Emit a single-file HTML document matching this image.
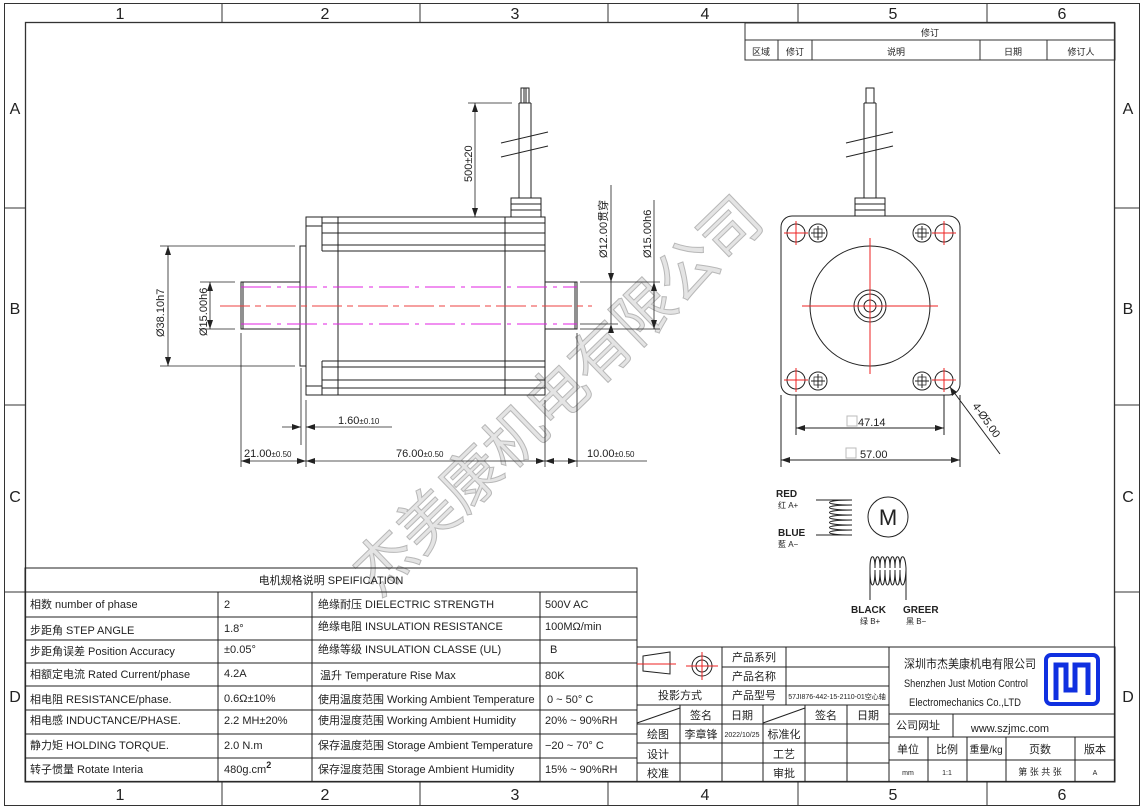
<!DOCTYPE html>
<html><head><meta charset="utf-8"><style>
html,body{margin:0;padding:0;background:#fff}
svg{display:block}
text{font-family:"Liberation Sans Narrow","Liberation Sans","Noto Sans CJK SC",sans-serif;fill:#222}
.t{font-size:11px}
.s{font-size:9px}
.r{font-size:16px;fill:#333}
</style></head><body>
<svg width="1144" height="809" viewBox="0 0 1144 809" xmlns="http://www.w3.org/2000/svg">
<rect width="1144" height="809" fill="#fff"/>
<g fill="none" stroke="#333">
<rect x="4.5" y="3.5" width="1135" height="802"/>
<rect x="25.5" y="22.5" width="1089" height="759" stroke-width="1.3"/>
<path d="M222 4V22M420 4V22M608 4V22M798 4V22M987 4V22M222 782V805M420 782V805M608 782V805M798 782V805M987 782V805M4 208H25M4 405H25M4 592H25M1115 208H1140M1115 405H1140M1115 592H1140"/>
</g>
<g class="r" text-anchor="middle">
<text x="120" y="19">1</text><text x="325" y="19">2</text><text x="515" y="19">3</text><text x="705" y="19">4</text><text x="893" y="19">5</text><text x="1062" y="19">6</text>
<text x="120" y="800">1</text><text x="325" y="800">2</text><text x="515" y="800">3</text><text x="705" y="800">4</text><text x="893" y="800">5</text><text x="1062" y="800">6</text>
<text x="15" y="114">A</text><text x="15" y="314">B</text><text x="15" y="502">C</text><text x="15" y="702">D</text>
<text x="1128" y="114">A</text><text x="1128" y="314">B</text><text x="1128" y="502">C</text><text x="1128" y="702">D</text>
</g>

<text x="0" y="0" transform="translate(378,598) rotate(-44)" font-size="60" style="fill:#e4e4e4;stroke:#b8b8b8;stroke-width:1" font-family="Noto Sans CJK SC,sans-serif">杰美康机电有限公司</text>

<g fill="none" stroke="#333">
<rect x="745" y="23" width="370" height="37"/>
<path d="M745 40H1115M778 40V60M812 40V60M980 40V60M1047 40V60"/>
</g>
<g class="s" text-anchor="middle">
<text x="930" y="36">修订</text><text x="761" y="55">区域</text><text x="795" y="55">修订</text><text x="896" y="55">说明</text><text x="1013" y="55">日期</text><text x="1081" y="55">修订人</text>
</g>

<g fill="none" stroke="#222" stroke-width="1">
<rect x="306" y="217" width="239" height="178"/>
<path d="M322 217V251M322 361V395M338 217V395M505 217V395"/>
<path d="M306 226H322M306 386H322"/>
<path d="M322 223H545M322 233H545M322 245H545M322 251H545"/>
<path d="M322 361H545M322 367H545M322 380H545M322 388H545"/>
<rect x="300" y="246" width="6" height="120"/>
<rect x="241" y="282" width="59" height="47"/>
<rect x="545" y="282" width="32" height="47"/>
<path d="M243 282V329M575 282V329"/>
<rect x="511" y="198" width="30" height="19"/>
<path d="M511 204H541M511 210H541"/>
<path d="M519 103V198M531 103V198M519 103H531"/>
<rect x="521" y="88" width="8" height="15"/>
<path d="M524 88V103M526 88V103"/>
<path d="M501 143L548 132M501 157L548 146"/>
</g>
<g stroke-width="1" fill="none">
<path d="M241 287H577M241 324H577" stroke="#e020e0" stroke-dasharray="30 6 4 6"/>
<path d="M220 306H592" stroke="#ee4040" stroke-dasharray="30 5 6 5"/>
</g>
<g stroke="#222" fill="none" stroke-width="0.8">
<path d="M468 103H512M475 103V217"/>
<path d="M160 246H295M160 366H295M168 246V366"/>
<path d="M200 282H235M200 329H235M210 282V329"/>
<path d="M580 282H660M580 324H618M580 329H660M611 185V324M654 200V329"/>
<path d="M301 368V445M306 400V467M241 333V467M545 400V467M577 333V467"/>
<path d="M282 427H301M306 427H392M241 461H306M306 461H545M545 461H577M577 461H647"/>
</g>
<g fill="#222">
<path d="M475 103l-3 9h6zM475 217l-3-9h6zM168 246l-3 9h6zM168 366l-3-9h6zM210 282l-3 9h6zM210 329l-3-9h6zM611 282l-3-9h6zM611 324l-3 9h6zM654 282l-3 9h6zM654 329l-3-9h6z"/>
<path d="M301 427l-9-3v6zM306 427l9-3v6zM241 461l9-3v6zM306 461l-9-3v6zM306 461l9-3v6zM545 461l-9-3v6zM545 461l9-3v6zM577 461l-9-3v6z"/>
</g>
<g class="t">
<text transform="translate(472,182) rotate(-90)">500±20</text>
<text transform="translate(164,337) rotate(-90)">Ø38.10h7</text>
<text transform="translate(207,336) rotate(-90)">Ø15.00h6</text>
<text transform="translate(607,258) rotate(-90)">Ø12.00贯穿</text>
<text transform="translate(651,258) rotate(-90)">Ø15.00h6</text>
<text x="338" y="424">1.60<tspan font-size="8">±0.10</tspan></text>
<text x="244" y="457">21.00<tspan font-size="8">±0.50</tspan></text>
<text x="396" y="457">76.00<tspan font-size="8">±0.50</tspan></text>
<text x="587" y="457">10.00<tspan font-size="8">±0.50</tspan></text>
</g>

<g fill="none" stroke="#222">
<rect x="781" y="216" width="179" height="179" rx="11"/>
<circle cx="870" cy="306" r="60"/>
<circle cx="870" cy="306" r="16"/><circle cx="870" cy="306" r="12"/><circle cx="870" cy="306" r="6"/>
<circle cx="796" cy="233" r="9"/><circle cx="944" cy="233" r="9"/><circle cx="796" cy="380" r="9"/><circle cx="944" cy="380" r="9"/>
<circle cx="818" cy="233" r="9"/><circle cx="922" cy="233" r="9"/><circle cx="818" cy="381" r="9"/><circle cx="922" cy="381" r="9"/>
<path d="M814 229h8v8h-8zM918 229h8v8h-8zM814 377h8v8h-8zM918 377h8v8h-8z" stroke-width="0.7"/>
<rect x="855" y="198" width="30" height="18"/>
<path d="M855 204H885M855 210H885"/>
<path d="M864 103V198M876 103V198M864 103H876"/>
<rect x="866" y="88" width="8" height="15"/>
<path d="M846 143L893 132M846 157L893 146"/>
<path d="M796 395V435M944 395V435M781 395V467M960 395V467"/>
<path d="M796 428H944M781 460H960"/>
<path d="M950 387L1000 454"/>
</g>
<g stroke="#e22" stroke-width="1">
<path d="M870 238V374M802 306H938"/>
<path d="M784 233H808M796 221V245M932 233H956M944 221V245M784 380H808M796 368V392M932 380H956M944 368V392"/>
</g>
<g stroke="#222" stroke-width="1">
<path d="M818 226V240M811 233H825M922 226V240M915 233H929M818 374V388M811 381H825M922 374V388M915 381H929"/>
</g>
<g fill="#222">
<path d="M796 428l9-3v6zM944 428l-9-3v6zM781 460l9-3v6zM960 460l-9-3v6zM950 387l2 9 5-4z"/>
</g>
<g class="t">
<rect x="847" y="416" width="10" height="10" fill="none" stroke="#bbb"/>
<text x="858" y="426">47.14</text>
<rect x="846" y="448" width="10" height="10" fill="none" stroke="#bbb"/>
<text x="860" y="458">57.00</text>
<text transform="translate(972,406) rotate(55)">4-Ø5.00</text>
</g>

<g fill="none" stroke="#222">
<path d="M816 500H852M816 535H852"/>
<path d="M852 500c-30 0-30 5 0 5c-30 0-30 5 0 5c-30 0-30 5 0 5c-30 0-30 5 0 5c-30 0-30 5 0 5c-30 0-30 5 0 5c-30 0-30 5 0 5"/>
<circle cx="888" cy="517" r="20"/>
<path d="M870 600V568M906 600V568"/>
<path d="M870 568c0-15 5-15 5 0c0-15 5-15 5 0c0-15 5-15 5 0c0-15 5-15 5 0c0-15 5-15 5 0c0-15 5-15 5 0c0-15 5-15 6 0"/>
<path d="M870 570c0 20 5 20 5 0c0 20 5 20 5 0c0 20 5 20 5 0c0 20 5 20 5 0c0 20 5 20 5 0c0 20 5 20 5 0c0 20 5 20 6 0"/>
</g>
<text x="888" y="525" font-size="22" text-anchor="middle">M</text>
<g font-size="10" font-weight="bold"><text x="776" y="497">RED</text><text x="778" y="536">BLUE</text><text x="851" y="613">BLACK</text><text x="903" y="613">GREER</text></g>
<g font-size="8"><text x="778" y="508">红 A+</text><text x="778" y="547">藍 A−</text><text x="860" y="624">绿 B+</text><text x="906" y="624">黑 B−</text></g>

<g fill="none" stroke="#222">
<rect x="25" y="568" width="612" height="214"/>
<path d="M25 592H637M25 617H637M25 640H637M25 663H637M25 686H637M25 710H637M25 734H637M25 758H637"/>
<path d="M218 592V782M312 592V782M540 592V782"/>
</g>
<g class="t">
<text x="331" y="584" text-anchor="middle">电机规格说明 SPEIFICATION</text>
<text x="30" y="608">相数 number of phase</text><text x="224" y="608">2</text><text x="318" y="608">绝缘耐压 DIELECTRIC STRENGTH</text><text x="545" y="608">500V AC</text>
<text x="30" y="634">步距角 STEP ANGLE</text><text x="224" y="632">1.8°</text><text x="318" y="630">绝缘电阻 INSULATION RESISTANCE</text><text x="545" y="630">100MΩ/min</text>
<text x="30" y="655">步距角误差 Position Accuracy</text><text x="224" y="653">±0.05°</text><text x="318" y="653">绝缘等级 INSULATION CLASSE (UL)</text><text x="550" y="653">B</text>
<text x="30" y="678">相额定电流 Rated Current/phase</text><text x="224" y="677">4.2A</text><text x="320" y="679">温升 Temperature Rise Max</text><text x="545" y="679">80K</text>
<text x="30" y="703">相电阻 RESISTANCE/phase.</text><text x="224" y="702">0.6Ω±10%</text><text x="318" y="703">使用温度范围 Working Ambient Temperature</text><text x="547" y="703">0 ~ 50° C</text>
<text x="30" y="724">相电感 INDUCTANCE/PHASE.</text><text x="224" y="724">2.2 MH±20%</text><text x="318" y="724">使用湿度范围 Working Ambient Humidity</text><text x="545" y="724">20% ~ 90%RH</text>
<text x="30" y="749">静力矩 HOLDING TORQUE.</text><text x="224" y="749">2.0 N.m</text><text x="318" y="749">保存温度范围 Storage Ambient Temperature</text><text x="545" y="749">−20 ~ 70° C</text>
<text x="30" y="773">转子惯量 Rotate Interia</text><text x="224" y="773">480g.cm<tspan font-size="9" dy="-5" font-weight="bold">2</tspan></text><text x="318" y="773">保存湿度范围 Storage Ambient Humidity</text><text x="545" y="773">15% ~ 90%RH</text>
</g>

<g fill="none" stroke="#222">
<rect x="637" y="647" width="478" height="135"/>
<path d="M889 647V782M722 647V705M786 647V705M637 686H889M722 667H889M637 705H889M637 724H889M637 743H889M637 763H889"/>
<path d="M680 705V782M722 705V782M763 705V782M805 705V782M847 705V782M637 723L680 708M763 723L805 708"/>
<path d="M889 714H1115M953 714V737M889 737H1115M889 760H1115M928 737V782M967 737V782M1006 737V782M1075 737V782"/>
<path d="M643 656L670 652V674L643 671Z"/>
<circle cx="702" cy="666" r="10"/><circle cx="702" cy="666" r="6"/>
</g>
<path d="M637 664H676M686 666H718M702 652V680" stroke="#e22" fill="none"/>
<g class="t" text-anchor="middle">
<text x="754" y="661">产品系列</text><text x="754" y="680">产品名称</text><text x="754" y="699">产品型号</text>
<text x="680" y="699">投影方式</text>
<text x="701" y="719">签名</text><text x="742" y="719">日期</text><text x="826" y="719">签名</text><text x="868" y="719">日期</text>
<text x="658" y="738">绘图</text><text x="701" y="738">李章锋</text><text x="784" y="738">标准化</text>
<text x="658" y="758">设计</text><text x="784" y="758">工艺</text>
<text x="658" y="777">校准</text><text x="784" y="777">审批</text>
<text x="1010" y="732">www.szjmc.com</text>
<text x="908" y="753">单位</text><text x="947" y="753">比例</text><text x="1040" y="753">页数</text><text x="1095" y="753">版本</text>
<text x="986" y="753" font-size="10">重量/kg</text>
</g>
<g font-size="7" text-anchor="middle">
<text x="742" y="737">2022/10/25</text>
<text x="837" y="699">57JI876-442-15-2110-01空心轴</text>
<text x="908" y="775">mm</text><text x="947" y="775">1:1</text><text x="1040" y="775" font-size="9">第 张 共 张</text><text x="1095" y="775">A</text>
</g>
<text x="896" y="729" class="t">公司网址</text>
<g class="t"><text x="904" y="668" font-size="12" textLength="132" lengthAdjust="spacingAndGlyphs">深圳市杰美康机电有限公司</text><text x="904" y="687" textLength="124" lengthAdjust="spacingAndGlyphs">Shenzhen Just Motion Control</text><text x="909" y="706" textLength="112" lengthAdjust="spacingAndGlyphs">Electromechanics Co.,LTD</text></g>
<rect x="1046" y="655" width="52" height="49" rx="5" fill="none" stroke="#1030e0" stroke-width="4"/>
<path d="M1056 700V665H1066V690H1075V665H1088V695" fill="none" stroke="#1030e0" stroke-width="5"/>
</svg>
</body></html>
